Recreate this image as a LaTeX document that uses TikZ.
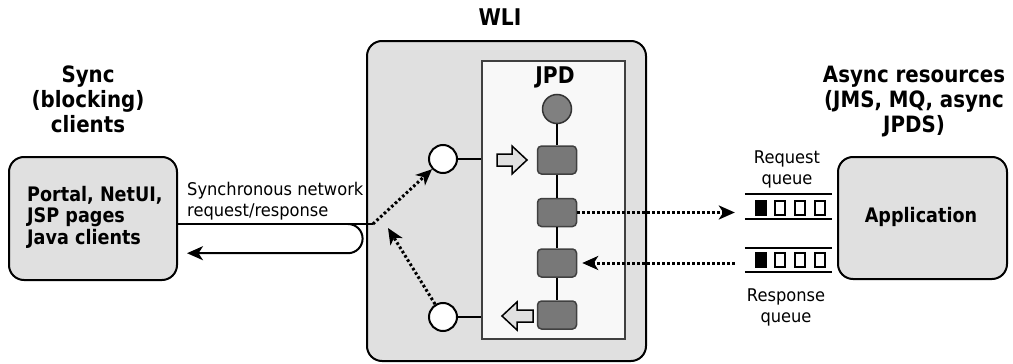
\documentclass[tikz,border=0pt]{standalone}
\usepackage{fontspec}
\setmainfont{DejaVu Sans}[FakeStretch=0.93]
\newfontfamily\bfam{DejaVu Sans}[FakeStretch=0.88]
\usetikzlibrary{arrows.meta}
\definecolor{boxgray}{HTML}{E0E0E0}
\definecolor{jpdfill}{HTML}{F8F8F8}
\definecolor{stepgray}{HTML}{787878}
\definecolor{circgray}{HTML}{808080}
\begin{document}
\begin{tikzpicture}[x=1pt,y=-1pt,
  box/.style={draw=black, line width=2pt, fill=boxgray, rounded corners=15pt, inner sep=0pt},
  jpdbox/.style={draw=black!75, line width=1.2pt, fill=jpdfill, inner sep=0pt},
  stepbox/.style={draw=black!75, line width=1.5pt, fill=stepgray, rounded corners=4pt, minimum width=39pt, minimum height=28pt, inner sep=0pt},
  startdot/.style={circle, draw=black!80, line width=1.5pt, fill=circgray, minimum size=29pt, inner sep=0pt},
  port/.style={circle, draw=black, line width=2pt, fill=white, minimum size=28pt, inner sep=0pt},
  solidline/.style={draw=black, line width=2pt},
  dotline/.style={draw=black, line width=3pt, dash pattern=on 2.6pt off 2.4pt},
  tip/.style={-{Stealth[length=16pt,width=14pt,inset=4.5pt]}},
  ttl/.style={font=\bfam\bfseries\fontsize{22.5}{25}\selectfont, align=center, inner sep=0pt},
  big/.style={font=\bfam\bfseries\fontsize{23}{25}\selectfont, inner sep=0pt},
  bxt/.style={font=\bfam\bfseries\fontsize{20}{21.5}\selectfont, inner sep=0pt},
  lbl/.style={font=\fontsize{17.5}{21}\selectfont, inner sep=0pt},
  blockarrow/.style={draw=black, line width=1.5pt, fill=boxgray, line join=miter},
  qline/.style={draw=black, line width=2.2pt},
  qcell/.style={draw=black, line width=2pt},
]
\useasboundingbox (0,0) rectangle (1013,364);

% boxes
\node[box, minimum width=168pt, minimum height=123pt] (lb) at (93,218.5) {};
\node[box, minimum width=279pt, minimum height=320pt] (wli) at (506.5,201) {};
\node[jpdbox, minimum width=143pt, minimum height=278pt] (jpd) at (553.5,200) {};
\node[box, minimum width=169pt, minimum height=122pt] (app) at (922.5,218) {};

% titles and labels (anchor base = baseline of last line)
\node[ttl, anchor=base] (t1) at (88,132) {Sync\\(blocking)\\clients};
\node[ttl, anchor=base] (t2) at (914,132) {Async resources\\(JMS, MQ, async\\JPDS)};
\node[big, anchor=base] (wlit) at (500,25) {WLI};
\node[big, anchor=base] (jpdt) at (555,83) {JPD};
\node[bxt, anchor=base west, align=left] (lbt) at (27,244) {Portal, NetUI,\\JSP pages\\Java clients};
\node[bxt, anchor=base] (appt) at (921,222) {Application};
\node[lbl, anchor=base west, align=left] (synl) at (187,216) {Synchronous network\\request/response};
\node[lbl, anchor=base, align=center] (rql) at (787,184) {Request\\queue};
\node[lbl, anchor=base, align=center] (rsl) at (786,322) {Response\\queue};

% JPD flow
\node[startdot] (c0) at (557,109) {};
\node[stepbox] (s1) at (557,160) {};
\node[stepbox] (s2) at (557,212.5) {};
\node[stepbox] (s3) at (557,263) {};
\node[stepbox] (s4) at (557,315) {};
\draw[solidline] (c0) -- (s1);
\draw[solidline] (s1) -- (s2);
\draw[solidline] (s2) -- (s3);
\draw[solidline] (s3) -- (s4);

% ports
\node[port] (w1) at (443,159) {};
\node[port] (w2) at (443,317) {};
\draw[solidline] (w1) -- (w1 -| jpd.west);
\draw[solidline] (w2) -- (w2 -| jpd.west);

% block arrows
\draw[blockarrow] (497,154) -- (512,154) -- (512,146) -- (527,160) -- (512,174) -- (512,166) -- (497,166) -- cycle;
\draw[blockarrow] (533,310) -- (517,310) -- (517,302) -- (502,316) -- (517,330) -- (517,322) -- (533,322) -- cycle;

% queues
\node[minimum width=87pt, minimum height=25pt, inner sep=0pt] (rq) at (788.5,206.5) {};
\node[minimum width=87pt, minimum height=24pt, inner sep=0pt] (rs) at (788.5,260) {};
\draw[qline] (rq.north west) -- (rq.north east);
\draw[qline] (rq.south west) -- (rq.south east);
\draw[qline] (rs.north west) -- (rs.north east);
\draw[qline] (rs.south west) -- (rs.south east);
\foreach \cy in {207.5,260}{
  \draw[qcell, fill=black] (756,\cy-7) rectangle (766,\cy+7);
  \foreach \cx in {775,795,815}{
    \draw[qcell, fill=white] (\cx,\cy-7) rectangle (\cx+10,\cy+7);
  }
}

% sync loop
\coordinate (J) at (373,224);
\coordinate (L1) at (348,224);
\draw[solidline] (lb.east |- J) -- (J);
\draw[solidline, tip] (L1) arc[start angle=-90, end angle=90, radius=14.6] coordinate (L2) -- ([xshift=9pt]lb.east |- L2);

% dotted connectors
\coordinate (K) at (388,228);
\draw[dotline, tip] (J) -- (w1);
\draw[dotline, tip] (w2) -- (K);
\draw[dotline, tip, shorten >=10pt] (s2) -- (s2 -| rq.west);
\draw[dotline, tip, shorten <=10pt, shorten >=5pt] (s3 -| rs.west) -- (s3);
\end{tikzpicture}
\end{document}
